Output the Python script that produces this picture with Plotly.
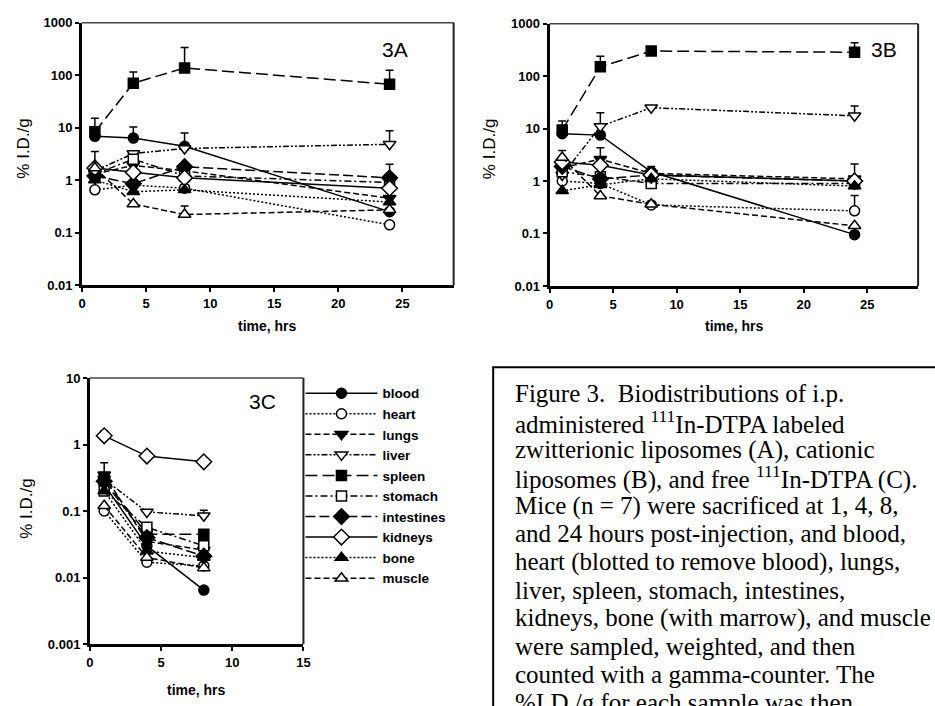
import plotly.graph_objects as go

W, H = 935, 706

organs = ["blood", "heart", "lungs", "liver", "spleen", "stomach",
          "intestines", "kidneys", "bone", "muscle"]

times_ab = [1, 4, 8, 24]
times_c = [1, 4, 8]

# Panel 3A: zwitterionic liposomes (%I.D./g)
a_blood = [6.8, 6.3, 4.4, 0.25]
a_heart = [0.65, 0.8, 0.7, 0.14]
a_lungs = [1.3, 1.9, 1.5, 0.45]
a_liver = [1.5, 3.2, 4.0, 4.8]
a_spleen = [8.3, 70, 137, 67]
a_stomach = [1.3, 2.5, 1.2, 0.9]
a_intestines = [1.2, 0.85, 1.8, 1.1]
a_kidneys = [1.7, 1.4, 1.1, 0.7]
a_bone = [1.0, 0.6, 0.65, 0.38]
a_muscle = [1.7, 0.35, 0.22, 0.27]

# Panel 3B: cationic liposomes
b_blood = [8.0, 7.5, 1.5, 0.095]
b_heart = [1.0, 0.9, 0.35, 0.27]
b_lungs = [1.8, 2.6, 1.4, 1.1]
b_liver = [1.3, 11, 25, 17.5]
b_spleen = [9.4, 150, 300, 285]
b_stomach = [1.5, 1.2, 0.9, 0.9]
b_intestines = [1.9, 1.1, 1.3, 1.0]
b_kidneys = [2.3, 2.0, 1.3, 1.0]
b_bone = [0.65, 0.85, 1.1, 0.8]
b_muscle = [2.8, 0.52, 0.36, 0.14]

# Panel 3C: free 111In-DTPA
c_blood = [0.25, 0.03, 0.0065]
c_heart = [0.1, 0.017, 0.015]
c_lungs = [0.35, 0.035, 0.026]
c_liver = [0.3, 0.097, 0.085]
c_spleen = [0.3, 0.045, 0.045]
c_stomach = [0.2, 0.057, 0.03]
c_intestines = [0.28, 0.04, 0.021]
c_kidneys = [1.35, 0.67, 0.55]
c_bone = [0.2, 0.025, 0.02]
c_muscle = [0.12, 0.02, 0.014]

# upper error bars (0 = none visible)
a_err = {"blood": [0, 4, 3.5, 0], "spleen": [6.7, 45, 200, 57],
         "liver": [0, 0, 0, 3.9], "muscle": [1.8, 0, 0.1, 0],
         "intestines": [0, 0, 0, 0.9]}
b_err = {"blood": [0, 0, 0.4, 0], "spleen": [4.6, 90, 0, 145],
         "liver": [0, 9, 0, 9.5], "lungs": [0, 1.7, 0, 0],
         "muscle": [1.0, 0, 0, 0], "heart": [0, 0, 0, 0.26],
         "intestines": [0, 0, 0, 1.1]}
c_err = {"lungs": [0.18, 0, 0], "liver": [0, 0, 0.018],
         "kidneys": [0.25, 0, 0]}

panel_a = [a_blood, a_heart, a_lungs, a_liver, a_spleen, a_stomach,
           a_intestines, a_kidneys, a_bone, a_muscle]
panel_b = [b_blood, b_heart, b_lungs, b_liver, b_spleen, b_stomach,
           b_intestines, b_kidneys, b_bone, b_muscle]
panel_c = [c_blood, c_heart, c_lungs, c_liver, c_spleen, c_stomach,
           c_intestines, c_kidneys, c_bone, c_muscle]

styles = {
    "blood": ("circle", "black", "solid", 10),
    "heart": ("circle", "white", "2px,2px", 10),
    "lungs": ("triangle-down", "black", "6px,3px", 11),
    "liver": ("triangle-down", "white", "6px,2px,2px,2px,2px,2px", 11),
    "spleen": ("square", "black", "12px,5px", 10),
    "stomach": ("square", "white", "7px,3px,2px,3px", 10),
    "intestines": ("diamond", "black", "10px,4px", 12),
    "kidneys": ("diamond", "white", "solid", 12),
    "bone": ("triangle-up", "black", "2px,2px", 11),
    "muscle": ("triangle-up", "white", "6px,3px", 11),
}

fig = go.Figure()


def add_panel(times, values, errs, xa, ya, legend):
    for name, vals in zip(organs, values):
        sym, fill, dash, size = styles[name]
        e = errs.get(name, [0] * len(times))
        fig.add_trace(go.Scatter(
            x=times, y=vals, name=name, legendgroup=name,
            showlegend=legend, mode="lines+markers",
            xaxis=xa, yaxis=ya,
            line=dict(color="black", width=1.5, dash=dash),
            marker=dict(symbol=sym, size=size, color=fill,
                        line=dict(color="black", width=1.5)),
            error_y=dict(type="data", symmetric=False, array=e,
                         arrayminus=[0] * len(times), color="black",
                         thickness=1.5, width=4),
        ))


add_panel(times_ab, panel_a, a_err, "x", "y", False)
add_panel(times_ab, panel_b, b_err, "x2", "y2", False)
add_panel(times_c, panel_c, c_err, "x3", "y3", True)


def px_x(v):
    return v / W


def px_y(v):
    return 1 - v / H


tickfont = dict(family="Arial", size=13, color="black", weight="bold")
common_ax = dict(showline=True, linewidth=3, linecolor="black", ticks="outside",
                 ticklen=4, tickwidth=2, tickcolor="black", showgrid=False,
                 zeroline=False, tickfont=tickfont, fixedrange=True)

y_ab_vals = [0.01, 0.1, 1, 10, 100, 1000]
y_ab_text = ["0.01", "0.1", "1", "10", "100", "1000"]
y_c_vals = [0.001, 0.01, 0.1, 1, 10]
y_c_text = ["0.001", "0.01", "0.1", "1", "10"]

fig.update_layout(
    width=W, height=H, margin=dict(l=0, r=0, t=0, b=0),
    paper_bgcolor="white", plot_bgcolor="white",
    font=dict(family="Arial", color="black"),
    xaxis=dict(domain=[px_x(79), px_x(455)], range=[0, 29],
               tickvals=[0, 5, 10, 15, 20, 25], anchor="y", **common_ax),
    yaxis=dict(domain=[px_y(284), px_y(16)], type="log", range=[-2, 3],
               tickvals=y_ab_vals, ticktext=y_ab_text, anchor="x", **common_ax),
    xaxis2=dict(domain=[px_x(552), px_x(925)], range=[0, 29],
                tickvals=[0, 5, 10, 15, 20, 25], anchor="y2", **common_ax),
    yaxis2=dict(domain=[px_y(285), px_y(17)], type="log", range=[-2, 3],
                tickvals=y_ab_vals, ticktext=y_ab_text, anchor="x2", **common_ax),
    xaxis3=dict(domain=[px_x(87), px_x(303)], range=[0, 15],
                tickvals=[0, 5, 10, 15], anchor="y3", **common_ax),
    yaxis3=dict(domain=[px_y(651), px_y(379)], type="log", range=[-3, 1],
                tickvals=y_c_vals, ticktext=y_c_text, anchor="x3", **common_ax),
    legend=dict(x=px_x(300), y=px_y(379), xanchor="left", yanchor="top",
                font=dict(family="Arial", size=13.5, color="black", weight="bold"),
                itemwidth=72, bgcolor="rgba(0,0,0,0)", tracegroupgap=0,
                traceorder="normal"),
    showlegend=True,
)

# thin top/right frame lines
shapes = []
for xr, yr in [("x", "y"), ("x2", "y2"), ("x3", "y3")]:
    shapes.append(dict(type="line", xref=f"{xr} domain", yref=f"{yr} domain",
                       x0=0, x1=1, y0=1, y1=1, line=dict(color="#444", width=1.5)))
    shapes.append(dict(type="line", xref=f"{xr} domain", yref=f"{yr} domain",
                       x0=1, x1=1, y0=0, y1=1, line=dict(color="#222", width=2)))
# caption box
shapes.append(dict(type="rect", xref="paper", yref="paper",
                   x0=px_x(495), x1=1.02, y0=-0.02, y1=px_y(368),
                   line=dict(color="black", width=2), fillcolor="rgba(0,0,0,0)"))
fig.update_layout(shapes=shapes)

ann = []
# panel labels
for txt, x, y in [("3A", 396, 43), ("3B", 890, 43), ("3C", 262, 403)]:
    ann.append(dict(text=txt, x=px_x(x), y=px_y(y), xref="paper", yref="paper",
                    showarrow=False, font=dict(family="Arial", size=21, color="black"),
                    xanchor="center", yanchor="middle"))
# axis titles
for x, y in [(267, 326), (739, 326), (195, 698)]:
    ann.append(dict(text="time, hrs", x=px_x(x), y=px_y(y), xref="paper", yref="paper",
                    showarrow=False,
                    font=dict(family="Arial", size=14, color="black", weight="bold"),
                    xanchor="center", yanchor="middle"))
for x, y in [(20, 145), (492, 145), (22, 513)]:
    ann.append(dict(text="% I.D./g", x=px_x(x), y=px_y(y), xref="paper", yref="paper",
                    showarrow=False, textangle=-90,
                    font=dict(family="Arial", size=17, color="black"),
                    xanchor="center", yanchor="middle"))

caption = [
    "Figure 3.  Biodistributions of i.p.",
    "administered <sup>111</sup>In-DTPA labeled",
    "zwitterionic liposomes (A), cationic",
    "liposomes (B), and free <sup>111</sup>In-DTPA (C).",
    "Mice (n = 7) were sacrificed at 1, 4, 8,",
    "and 24 hours post-injection, and blood,",
    "heart (blotted to remove blood), lungs,",
    "liver, spleen, stomach, intestines,",
    "kidneys, bone (with marrow), and muscle",
    "were sampled, weighted, and then",
    "counted with a gamma-counter. The",
    "%I.D./g for each sample was then",
]
for i, line in enumerate(caption):
    base = 403 + i * 28.67
    ann.append(dict(text=line, x=px_x(515), y=px_y(base - 8), xref="paper", yref="paper",
                    showarrow=False, xanchor="left", yanchor="middle", align="left",
                    font=dict(family="Liberation Serif", size=25, color="black")))
fig.update_layout(annotations=ann)

fig.write_html("out.html")
